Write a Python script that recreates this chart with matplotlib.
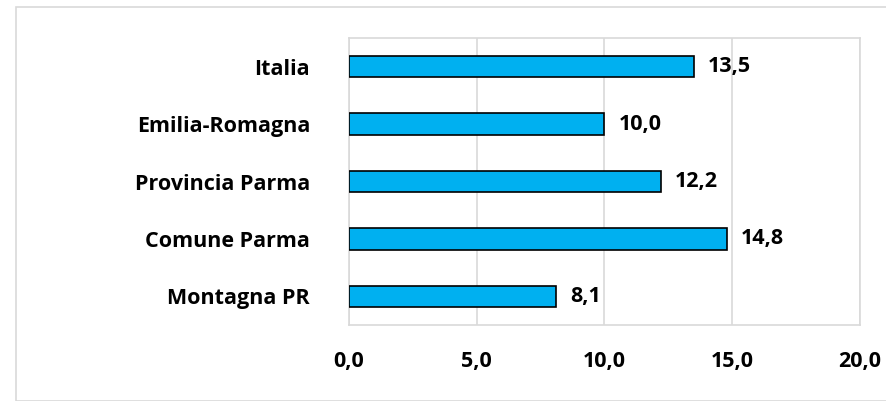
import matplotlib.pyplot as plt
from matplotlib.patches import Rectangle

# data
categories = ["Italia", "Emilia-Romagna", "Provincia Parma", "Comune Parma", "Montagna PR"]
values = [13.5, 10.0, 12.2, 14.8, 8.1]
ticks = [0, 5, 10, 15, 20]

plt.rcParams['font.family'] = ['Open Sans', 'DejaVu Sans']
FS = 15.5

fig = plt.figure(figsize=(8.87, 4.01), dpi=100)
W, H = 887, 401
# outer chart frame (light gray)
fig.patches.append(Rectangle((16 / W, 0), 1.2, (H - 7) / H, transform=fig.transFigure,
                             fill=False, edgecolor='#d9d9d9', linewidth=1.2))

ax = fig.add_axes([349 / W, 1 - 325 / H, (860 - 349) / W, (325 - 38) / H])
y = list(range(len(categories)))[::-1]
ax.barh(y, values, height=0.37, color='#00b0f0', edgecolor='black', linewidth=1.2, zorder=3)

for yi, v in zip(y, values):
    ax.annotate(f"{v:.1f}".replace('.', ','), (v, yi), xytext=(10, 0), textcoords='offset points',
                va='center', ha='left', fontsize=FS, fontweight='bold')

ax.set_xlim(0, 20)
ax.set_ylim(-0.5, len(categories) - 0.5)
ax.set_xticks(ticks)
ax.set_xticklabels([f"{t:.1f}".replace('.', ',') for t in ticks], fontsize=FS, fontweight='bold')
ax.set_yticks(y)
ax.set_yticklabels(categories, fontsize=FS, fontweight='bold')
ax.tick_params(length=0)
ax.tick_params(axis='x', pad=19)
ax.tick_params(axis='y', pad=28)
ax.grid(axis='x', color='#d9d9d9', linewidth=1.2, zorder=0)
for s in ax.spines.values():
    s.set_color('#d9d9d9')
    s.set_linewidth(1.2)

fig.savefig("out.png", dpi=100)
